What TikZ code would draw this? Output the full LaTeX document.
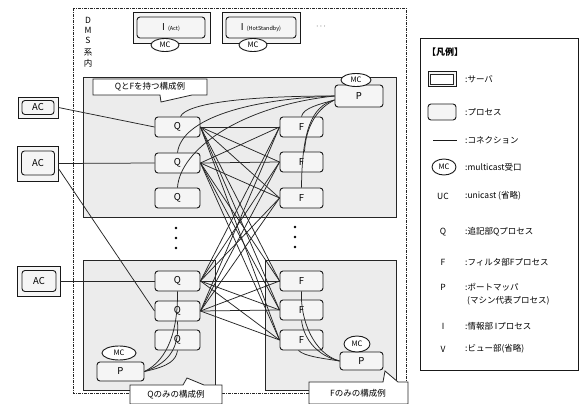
\documentclass[tikz,border=0pt]{standalone}
\usepackage{fontspec}
\setmainfont{Noto Sans CJK JP}
\usetikzlibrary{shapes.geometric}
\begin{document}
\begin{tikzpicture}[x=1pt,y=-1pt,
  conn/.style={draw=black!85, line width=0.75pt},
  proc/.style={draw=black!90, line width=0.9pt, rounded corners=3pt, fill=gray!8, minimum width=45pt, minimum height=20pt, inner sep=0pt, font=\fontsize{9.5}{10}\selectfont},
  srv/.style={draw=black!90, line width=0.9pt, fill=gray!8, inner sep=0pt},
  mc/.style={ellipse, draw=black!90, line width=0.9pt, fill=white, minimum width=28pt, minimum height=13pt, inner sep=0pt, font=\fontsize{7.5}{8}\selectfont},
  region/.style={draw=black!85, line width=0.8pt, fill=gray!15},
  callout/.style={draw=black!85, line width=0.8pt, fill=white},
  ctext/.style={font=\fontsize{8.5}{9}\selectfont, inner sep=0pt},
  legtext/.style={anchor=west, font=\fontsize{8.5}{9}\selectfont, inner sep=0pt},
  legkey/.style={font=\fontsize{8.5}{9}\selectfont, inner sep=0pt},
  dmstext/.style={font=\fontsize{8.5}{9}\selectfont, inner sep=0pt},
  dot/.style={circle, fill=black, inner sep=0pt, minimum size=2.8pt},
]
\useasboundingbox (0,0) rectangle (579,404);
\fill[white] (0,0) rectangle (579,404);

% outer DMS box
\draw[black!85, line width=0.9pt, dash pattern=on 3pt off 1pt on 1pt off 1pt] (73,8) rectangle (406,393);
\node[dmstext] (d1) at (88,20) {D};
\node[dmstext] (d2) at (88,30) {M};
\node[dmstext] (d3) at (88,40) {S};
\node[dmstext] (d4) at (88,52) {系};
\node[dmstext] (d5) at (88,63) {内};

% regions
\draw[region] (83,77) rectangle (396,217);
\draw[region] (83,260) rectangle (215,390);
\draw[region] (265,260) rectangle (396,390);

% information servers
\node[srv, minimum width=77pt, minimum height=31pt] (iacts) at (171.5,27.5) {};
\node[proc, minimum width=68pt, minimum height=21pt] (iact) at (171,27.5) {I\,\,{\fontsize{5.5}{6}\selectfont (Act)}};
\node[mc] (mcact) at (165,45) {MC};
\node[srv, minimum width=78pt, minimum height=31pt] (ihots) at (261,27.5) {};
\node[proc, minimum width=70pt, minimum height=21pt] (ihot) at (261,27.5) {I\,\,{\fontsize{5.5}{6}\selectfont (HotStandby)}};
\node[mc] (mchot) at (253,45) {MC};
\node[ctext] (more) at (321,27) {$\cdots$};

% AC servers
\node[srv, minimum width=40pt, minimum height=21pt] (ac1s) at (38,107.5) {};
\node[proc, minimum width=32pt, minimum height=14pt] (ac1) at (38,107.5) {AC};
\node[srv, minimum width=41pt, minimum height=35pt] (ac2s) at (37.5,163.5) {};
\node[proc, minimum width=33pt, minimum height=24pt] (ac2) at (38,163) {AC};
\node[srv, minimum width=43pt, minimum height=30pt] (ac3s) at (38.5,281) {};
\node[proc, minimum width=34pt, minimum height=21pt] (ac3) at (39,281) {AC};

% top group processes
\node[proc] (q1) at (177.5,127) {Q};
\node[proc] (q2) at (177.5,163) {Q};
\node[proc] (q3) at (177.5,198) {Q};
\node[proc, minimum width=43pt] (f1) at (301.5,127) {F};
\node[proc, minimum width=43pt] (f2) at (301.5,162) {F};
\node[proc, minimum width=43pt] (f3) at (301.5,198) {F};
\node[proc, minimum width=48pt, minimum height=22pt] (pt) at (359,96) {P};
\node[mc, minimum width=30pt] (mct) at (356,80) {MC};

% bottom groups
\node[proc] (q4) at (177.5,281) {Q};
\node[proc] (q5) at (177.5,311) {Q};
\node[proc] (q6) at (177.5,340) {Q};
\node[proc, minimum width=43pt] (f4) at (301.5,281) {F};
\node[proc, minimum width=43pt] (f5) at (301.5,310) {F};
\node[proc, minimum width=43pt] (f6) at (301.5,340) {F};
\node[proc, minimum width=47pt, minimum height=19pt] (pl) at (120.5,371.5) {P};
\node[mc, minimum width=34pt, minimum height=14pt] (mcl) at (119,353) {MC};
\node[proc, minimum width=43pt, minimum height=18pt] (pr) at (361.5,361) {P};
\node[mc, minimum width=26pt, minimum height=16pt] (mcr) at (357,344) {MC};

% dots
\node[dot] (dl1) at (176,228) {};
\node[dot] (dl2) at (176,238) {};
\node[dot] (dl3) at (176,248) {};
\node[dot] (dr1) at (295,227) {};
\node[dot] (dr2) at (295,237) {};
\node[dot] (dr3) at (295,247) {};

% AC connections
\draw[conn] (ac1s.east) -- (q1.west);
\draw[conn] (ac2s.east) -- (q2.west);
\draw[conn] ([yshift=-5pt]ac2s.east) -- (q5.west);
\draw[conn] (ac3s.east) -- (q4.west);

% Q-F full mesh
\foreach \q in {q1,q2,q4,q5}{
  \foreach \f in {f1,f2,f3,f4,f5,f6}{
    \draw[conn] (\q.east) -- (\f.west);
  }
}

% port mapper curves, top group
\draw[conn] (pt.west) .. controls (240,96) and (186,104) .. ([xshift=3pt]q1.north);
\draw[conn] (pt.west) .. controls (250,99) and (182,118) .. (q2.north);
\draw[conn] (pt.west) .. controls (240,106) and (180,150) .. (q3.north);
\draw[conn] ([yshift=-4pt]pt.west) .. controls (320,104) and (303,108) .. (f1.north);
\draw[conn] ([yshift=-4pt]pt.west) .. controls (318,108) and (306,125) .. ([xshift=3pt]f2.north);
\draw[conn] ([yshift=-4pt]pt.west) .. controls (312,106) and (302,130) .. (f3.north);

% port mapper curves, bottom left
\draw[conn] (pl.east) .. controls (170,366) and (176,360) .. (q6.south);
\draw[conn] (pl.east) .. controls (172,362) and (179,345) .. (q5.south);
\draw[conn] (pl.east) .. controls (168,360) and (178,330) .. (q4.south);

% port mapper curves, bottom right
\draw[conn] (pr.west) .. controls (320,358) and (304,356) .. ([xshift=-3pt]f6.south);
\draw[conn] (pr.west) .. controls (318,356) and (304,340) .. (f5.south);
\draw[conn] (pr.west) .. controls (314,354) and (300,320) .. (f4.south);

% callouts
\draw[callout] (93,79) -- (207,79) -- (207,95) -- (192,95) -- (161,102) -- (160,95) -- (93,95) -- cycle;
\node[ctext] (c1) at (150,87) {QとFを持つ構成例};
\draw[callout] (130,385) -- (183,385) -- (187,378) -- (204,385) -- (222,385) -- (222,404) -- (130,404) -- cycle;
\node[ctext] (c2) at (176,395) {Qのみの構成例};
\draw[callout] (309,382) -- (383,382) -- (385,371) -- (398,382) -- (408,382) -- (408,404) -- (309,404) -- cycle;
\node[ctext] (c3) at (358,393) {Fのみの構成例};

% legend
\draw[black!90, line width=0.9pt] (420,38) rectangle (578,370);
\node[legtext, font=\fontsize{9}{9}\selectfont\bfseries] (lt) at (427,52) {【凡例】};
\node[srv, minimum width=28pt, minimum height=15pt] (ls) at (442,79) {};
\node[draw=black!85, line width=0.6pt, minimum width=23pt, minimum height=10pt, inner sep=0pt, fill=white] (lsi) at (442,79) {};
\node[legtext] (lst) at (465,79) {:サーバ};
\node[proc, minimum width=28pt, minimum height=16pt] (lp) at (442,112) {};
\node[legtext] (lpt) at (465,112) {:プロセス};
\coordinate (la) at (433,140);
\coordinate (lb) at (457,140);
\draw[black!90, line width=0.9pt] (la) -- (lb);
\node[legtext] (lct) at (465,140) {:コネクション};
\node[mc, minimum width=24pt, minimum height=16pt] (lmc) at (444,167) {MC};
\node[legtext] (lmt) at (465,167) {:multicast受口};
\node[legkey] (luc) at (443,196) {UC};
\node[legtext] (lut) at (465,196) {:unicast (省略)};
\node[legkey] (lq) at (443,232) {Q};
\node[legtext] (lqt) at (465,232) {:追記部Qプロセス};
\node[legkey] (lf) at (443,262) {F};
\node[legtext] (lft) at (465,262) {:フィルタ部Fプロセス};
\node[legkey] (lpp) at (443,287) {P};
\node[legtext] (lppt) at (465,287) {:ポートマッパ};
\node[legtext] (lppt2) at (467,301) {(マシン代表プロセス)};
\node[legkey] (li) at (443,326) {I};
\node[legtext] (lit) at (465,326) {:情報部 Iプロセス};
\node[legkey] (lv) at (443,349) {V};
\node[legtext] (lvt) at (465,349) {:ビュー部(省略)};
\end{tikzpicture}
\end{document}
